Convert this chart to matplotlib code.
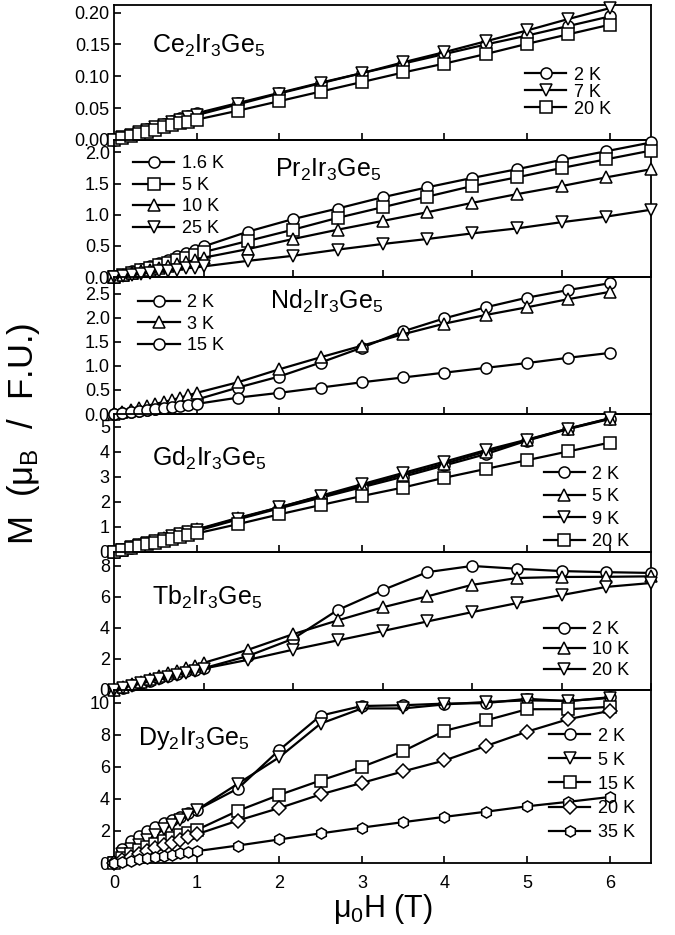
import matplotlib
matplotlib.use("Agg")
import matplotlib.pyplot as plt
from matplotlib.ticker import MultipleLocator, FormatStrFormatter

plt.rcParams['font.family'] = ['Liberation Sans', 'DejaVu Sans']
plt.rcParams['mathtext.fontset'] = 'custom'
plt.rcParams['mathtext.rm'] = 'Liberation Sans'
plt.rcParams['mathtext.it'] = 'Liberation Sans'

field = [0, 0.1, 0.2, 0.3, 0.4, 0.5, 0.6, 0.7, 0.8, 0.9, 1.0,
         1.5, 2.0, 2.5, 3.0, 3.5, 4.0, 4.5, 5.0, 5.5, 6.0]

# Ce2Ir3Ge5
ce_2K = [0, 0.004, 0.008, 0.013, 0.017, 0.021, 0.025, 0.030, 0.034, 0.038, 0.042,
         0.058, 0.074, 0.090, 0.105, 0.120, 0.135, 0.150, 0.164, 0.179, 0.194]
ce_7K = [0, 0.004, 0.008, 0.012, 0.016, 0.020, 0.024, 0.028, 0.032, 0.036, 0.039,
         0.056, 0.073, 0.089, 0.105, 0.122, 0.138, 0.155, 0.172, 0.190, 0.207]
ce_20K = [0, 0.003, 0.007, 0.010, 0.013, 0.016, 0.020, 0.023, 0.026, 0.029, 0.032,
          0.046, 0.061, 0.076, 0.091, 0.106, 0.120, 0.135, 0.151, 0.166, 0.181]

# Pr2Ir3Ge5
pr_1p6K = [0, 0.04, 0.09, 0.13, 0.18, 0.23, 0.28, 0.33, 0.38, 0.43, 0.49,
           0.73, 0.93, 1.10, 1.28, 1.44, 1.59, 1.73, 1.88, 2.02, 2.16]
pr_5K = [0, 0.03, 0.07, 0.11, 0.15, 0.19, 0.23, 0.27, 0.31, 0.35, 0.40,
         0.58, 0.76, 0.95, 1.12, 1.29, 1.46, 1.60, 1.75, 1.89, 2.03]
pr_10K = [0, 0.03, 0.06, 0.09, 0.12, 0.15, 0.18, 0.21, 0.24, 0.27, 0.31,
          0.45, 0.61, 0.76, 0.90, 1.04, 1.19, 1.33, 1.46, 1.60, 1.73]
pr_25K = [0, 0.02, 0.03, 0.05, 0.07, 0.09, 0.10, 0.12, 0.14, 0.15, 0.17,
          0.26, 0.34, 0.44, 0.53, 0.61, 0.70, 0.78, 0.88, 0.97, 1.08]

# Nd2Ir3Ge5
nd_2K = [0, 0.02, 0.04, 0.06, 0.08, 0.10, 0.13, 0.16, 0.20, 0.25, 0.30,
         0.55, 0.78, 1.07, 1.38, 1.72, 1.99, 2.22, 2.42, 2.58, 2.72]
nd_3K = [0, 0.04, 0.08, 0.12, 0.17, 0.21, 0.25, 0.29, 0.34, 0.39, 0.44,
         0.66, 0.93, 1.18, 1.42, 1.66, 1.88, 2.06, 2.22, 2.39, 2.54]
nd_15K = [0, 0.02, 0.04, 0.06, 0.08, 0.10, 0.12, 0.14, 0.16, 0.18, 0.21,
          0.34, 0.44, 0.55, 0.66, 0.76, 0.86, 0.96, 1.06, 1.17, 1.27]

# Gd2Ir3Ge5
gd_2K = [0, 0.09, 0.17, 0.26, 0.34, 0.43, 0.51, 0.60, 0.68, 0.76, 0.84,
         1.30, 1.74, 2.16, 2.58, 3.00, 3.45, 3.90, 4.44, 4.90, 5.30]
gd_5K = [0, 0.09, 0.18, 0.27, 0.36, 0.45, 0.54, 0.63, 0.72, 0.81, 0.90,
         1.36, 1.78, 2.22, 2.64, 3.08, 3.52, 4.00, 4.46, 4.92, 5.32]
gd_9K = [0, 0.09, 0.18, 0.27, 0.36, 0.44, 0.53, 0.62, 0.71, 0.80, 0.88,
         1.33, 1.78, 2.24, 2.70, 3.15, 3.60, 4.06, 4.48, 4.92, 5.33]
gd_20K = [0, 0.07, 0.15, 0.22, 0.30, 0.37, 0.44, 0.52, 0.59, 0.66, 0.74,
          1.11, 1.50, 1.87, 2.23, 2.57, 2.96, 3.31, 3.66, 4.01, 4.36]

# Tb2Ir3Ge5
tb_2K = [0, 0.15, 0.30, 0.45, 0.60, 0.75, 0.90, 1.05, 1.20, 1.30, 1.40,
         2.20, 3.30, 5.16, 6.44, 7.60, 8.00, 7.82, 7.67, 7.60, 7.55]
tb_10K = [0, 0.18, 0.36, 0.54, 0.72, 0.90, 1.07, 1.24, 1.42, 1.58, 1.75,
          2.60, 3.60, 4.49, 5.33, 6.04, 6.78, 7.22, 7.29, 7.30, 7.33]
tb_20K = [0, 0.14, 0.28, 0.42, 0.56, 0.70, 0.84, 0.98, 1.11, 1.24, 1.38,
          1.95, 2.60, 3.20, 3.80, 4.42, 5.02, 5.60, 6.12, 6.65, 6.90]

# Dy2Ir3Ge5
dy_2K = [0, 0.85, 1.35, 1.70, 2.00, 2.25, 2.50, 2.70, 2.90, 3.10, 3.30,
         4.65, 7.05, 9.20, 9.80, 9.85, 9.95, 9.98, 10.25, 10.10, 10.35]
dy_5K = [0, 0.55, 0.85, 1.15, 1.45, 1.75, 2.10, 2.40, 2.70, 3.00, 3.30,
         4.95, 6.60, 8.70, 9.65, 9.65, 9.90, 10.05, 10.15, 10.12, 10.30]
dy_15K = [0, 0.30, 0.55, 0.80, 1.00, 1.20, 1.40, 1.58, 1.75, 1.90, 2.06,
          3.26, 4.25, 5.15, 6.00, 6.98, 8.25, 8.90, 9.60, 9.60, 9.75]
dy_20K = [0, 0.20, 0.40, 0.58, 0.76, 0.93, 1.10, 1.27, 1.44, 1.60, 1.79,
          2.65, 3.43, 4.28, 5.00, 5.72, 6.40, 7.30, 8.20, 8.98, 9.50]
dy_35K = [0, 0.08, 0.15, 0.22, 0.30, 0.37, 0.45, 0.52, 0.60, 0.67, 0.74,
          1.09, 1.47, 1.85, 2.21, 2.55, 2.88, 3.20, 3.54, 3.82, 4.12]

panels = [
    dict(title='Ce$_2$Ir$_3$Ge$_5$', tpos=(0.07, 0.70),
         series=[(ce_2K, 'o', '2 K'), (ce_7K, 'v', '7 K'), (ce_20K, 's', '20 K')],
         xmax=6.5, ylim=0.212, ystep=0.05, fmt='%.2f',
         leg=dict(bbox=(0.765, 0.355), ls=0.0)),
    dict(title='Pr$_2$Ir$_3$Ge$_5$', tpos=(0.30, 0.78),
         series=[(pr_1p6K, 'o', '1.6 K'), (pr_5K, 's', '5 K'),
                 (pr_10K, '^', '10 K'), (pr_25K, 'v', '25 K')],
         xmax=6.0, ylim=2.2, ystep=0.5, fmt='%.1f',
         leg=dict(bbox=(0.035, 0.59), ls=0.25)),
    dict(title='Nd$_2$Ir$_3$Ge$_5$', tpos=(0.29, 0.82),
         series=[(nd_2K, 'o', '2 K'), (nd_3K, '^', '3 K'), (nd_15K, 'o', '15 K')],
         xmax=6.5, ylim=2.85, ystep=0.5, fmt='%.1f',
         leg=dict(bbox=(0.045, 0.655), ls=0.25)),
    dict(title='Gd$_2$Ir$_3$Ge$_5$', tpos=(0.07, 0.68),
         series=[(gd_2K, 'o', '2 K'), (gd_5K, '^', '5 K'),
                 (gd_9K, 'v', '9 K'), (gd_20K, 's', '20 K')],
         xmax=6.5, ylim=5.5, ystep=1, fmt='%d',
         leg=dict(bbox=(0.80, 0.32), ls=0.3)),
    dict(title='Tb$_2$Ir$_3$Ge$_5$', tpos=(0.07, 0.67),
         series=[(tb_2K, 'o', '2 K'), (tb_10K, '^', '10 K'), (tb_20K, 'v', '20 K')],
         xmax=6.0, ylim=8.9, ystep=2, fmt='%d',
         leg=dict(bbox=(0.80, 0.29), ls=0.2)),
    dict(title='Dy$_2$Ir$_3$Ge$_5$', tpos=(0.045, 0.72),
         series=[(dy_2K, 'o', '2 K'), (dy_5K, 'v', '5 K'), (dy_15K, 's', '15 K'),
                 (dy_20K, 'D', '20 K'), (dy_35K, 'h', '35 K')],
         xmax=6.5, ylim=10.8, ystep=2, fmt='%d',
         leg=dict(bbox=(0.81, 0.455), ls=0.39)),
]

W, H = 675, 935
fig = plt.figure(figsize=(W / 100, H / 100), dpi=100)
tops = [5, 140, 277, 414, 552, 690]
bots = [140, 277, 414, 552, 690, 863]
left, right = 114, 651

for i, p in enumerate(panels):
    ax = fig.add_axes([left / W, 1 - bots[i] / H, (right - left) / W, (bots[i] - tops[i]) / H])
    ax.patch.set_visible(False)
    for ys, mk, lab in p['series']:
        ms = 8.0 if mk != 'D' else 7.0
        ax.plot(field, ys, color='black', lw=1.6, marker=mk, ms=ms,
                mfc='white', mec='black', mew=1.1, label=lab, clip_on=False, zorder=3)
    ax.set_xlim(0, p['xmax'])
    ax.set_ylim(0, p['ylim'])
    ax.xaxis.set_major_locator(MultipleLocator(1))
    ax.yaxis.set_major_locator(MultipleLocator(p['ystep']))
    ax.yaxis.set_major_formatter(FormatStrFormatter(p['fmt']))
    ax.tick_params(direction='in', length=5, width=1.2, labelsize=13,
                   top=False, right=False, pad=3)
    ax.tick_params(axis='x', pad=9)
    for s in ax.spines.values():
        s.set_linewidth(1.3)
    if i < len(panels) - 1:
        ax.tick_params(labelbottom=False)
    else:
        ax.set_xlabel('$\\mu_0$H (T)', fontsize=22, labelpad=0)
    ax.text(p['tpos'][0], p['tpos'][1], p['title'], transform=ax.transAxes,
            fontsize=18, ha='left', va='center')
    lg = p['leg']
    ax.legend(loc='center left', bbox_to_anchor=lg['bbox'], frameon=False,
              fontsize=13, handlelength=2.3, handletextpad=0.4,
              labelspacing=lg['ls'], borderpad=0, borderaxespad=0)

fig.text(24 / W, 1 - 434 / H, 'M  ($\\mu_B$  /  F.U.)', rotation=90,
         fontsize=25, ha='center', va='center')

fig.savefig('out.png', dpi=100)
